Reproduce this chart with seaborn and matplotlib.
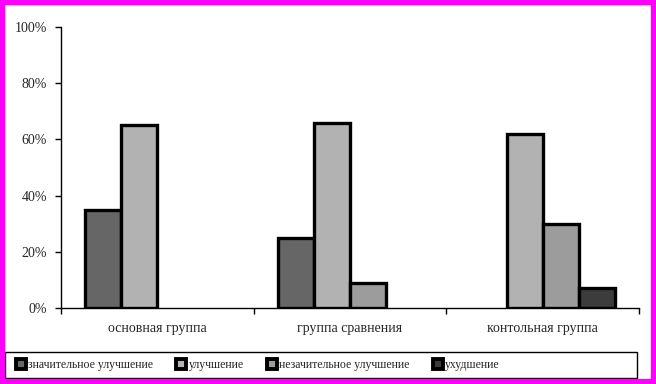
import numpy as np
import pandas as pd
import matplotlib
matplotlib.use("Agg")
import matplotlib.pyplot as plt
import seaborn as sns
from matplotlib.patches import Rectangle

# data (percent)
groups = ["основная группа", "группа сравнения", "контольная группа"]
series = ["значительное улучшение", "улучшение", "незачительное улучшение", "ухудшение"]
v_significant = [35, 25, np.nan]
v_improved = [65, 66, 62]
v_minor = [np.nan, 9, 30]
v_worse = [np.nan, np.nan, 7]
colors = ["#666666", "#b2b2b2", "#9c9c9c", "#3c3c3c"]

rows = []
for name, vals in zip(series, [v_significant, v_improved, v_minor, v_worse]):
    for g, v in zip(groups, vals):
        rows.append({"group": g, "series": name, "value": v})
df = pd.DataFrame(rows)

sns.set_style("white")
plt.rcParams["font.family"] = ["Liberation Serif", "DejaVu Serif"]

fig = plt.figure(figsize=(6.56, 3.84), dpi=100)
ax = fig.add_axes([61 / 656, 1 - 308 / 384, (639 - 61) / 656, (308 - 27) / 384])

sns.barplot(data=df, x="group", y="value", hue="series", order=groups,
            hue_order=series, palette=colors, width=0.75, ax=ax,
            edgecolor="black", linewidth=2.4, saturation=1, errorbar=None)

ax.set_xlim(-0.5, 2.5)
ax.set_ylim(0, 100)
ax.set_yticks(range(0, 101, 20))
ax.set_yticklabels([f"{t}%" for t in range(0, 101, 20)], fontsize=10)
ax.set_xticks([0, 1, 2])
ax.set_xticklabels(groups, fontsize=10)
ax.set_xticks([-0.5, 0.5, 1.5, 2.5], minor=True)
ax.tick_params(axis="x", which="major", length=0, pad=10)
ax.tick_params(axis="x", which="minor", length=4, width=1, color="black", direction="out", bottom=True)
ax.tick_params(axis="y", length=4, width=1, color="black", direction="out", left=True, pad=6)
ax.set_xlabel("")
ax.set_ylabel("")
for s in ["top", "right"]:
    ax.spines[s].set_visible(False)
for s in ["left", "bottom"]:
    ax.spines[s].set_color("black")
    ax.spines[s].set_linewidth(1)

ax.legend_.remove()
handles, labels = ax.get_legend_handles_labels()
leg = fig.legend(handles, labels, ncol=4,
                 bbox_to_anchor=(16 / 656, 1 - 365 / 384),
                 loc="center left", fontsize=8.5, frameon=False,
                 handlelength=0.85, handleheight=0.85,
                 handletextpad=0.2, columnspacing=1.95, borderaxespad=0,
                 borderpad=0)
for h in leg.legend_handles:
    h.set_linewidth(2.8)

# legend frame box
fig.add_artist(Rectangle((5 / 656, 1 - 378 / 384), 632 / 656, 26 / 384,
                         transform=fig.transFigure, fill=False,
                         edgecolor="black", linewidth=1))

fig.add_artist(Rectangle((0, 0), 1, 1, transform=fig.transFigure, fill=False,
                         edgecolor="#ff00ff", linewidth=7.5))

fig.savefig("out.png", dpi=100, facecolor="white")
